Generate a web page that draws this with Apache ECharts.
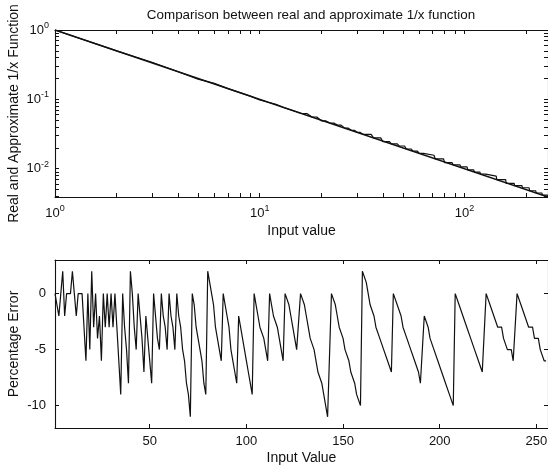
<!DOCTYPE html>
<html>
<head>
<meta charset="utf-8">
<script src="https://cdn.jsdelivr.net/npm/echarts@6/dist/echarts.min.js"></script>
<style>
  html, body { margin: 0; padding: 0; background: #fff; }
  #chart { width: 548px; height: 469px; }
</style>
</head>
<body>
<div id="chart"></div>
<script>
const FONT = "'Liberation Sans', Arial, sans-serif"
const INK = '#111'

// top panel: exact 1/x is a straight line on log-log, so its two end points
const realX = [1, 256]
const realY = [1, 0.00390625]

// approximate 1/x: table value held over each input segment
const approxStart = [1, 2, 3, 4, 5, 6, 7, 8, 9, 10, 11, 12, 13, 14, 15, 16, 18, 20, 22, 24, 26, 28, 30,
  32, 36, 40, 44, 48, 52, 56, 60, 64, 72, 80, 88, 96, 104, 112, 120,
  128, 144, 160, 176, 192, 208, 224, 240, 256]
const approxLevel = [1, 0.5, 0.3401, 0.25, 0.1961, 0.1701, 0.1429, 0.125, 0.1111, 0.098, 0.0909, 0.085,
  0.0769, 0.0714, 0.0667, 0.0625, 0.0556, 0.049, 0.0455, 0.0425, 0.0385, 0.0357, 0.0333,
  0.03125, 0.02778, 0.02451, 0.02273, 0.02126, 0.01923, 0.01786, 0.01667,
  0.015625, 0.01389, 0.012255, 0.011364, 0.010629, 0.009615, 0.008929, 0.008333,
  0.0078125, 0.006944, 0.006127, 0.005682, 0.005315, 0.004808, 0.004464, 0.004167, 0.00390625]

// bottom panel: percentage error for inputs 1..255
const errorValues = [
  0, 0, -2, 0, 2, -2, 0, 0, 0, 2, 0, -2, 0, 0, 0,
  0, -6, 0, -5, 2, -3, 0, -4, -2, -6, 0, -3, 0, -3, 0, -3,
  0, -3, -6, -9, 0, -3, -5, -8, 2, 0, -3, -5, 0, -2, -4, -7,
  -2, -4, -6, -8, 0, -2, -4, -5, 0, -2, -3, -5, 0, -2, -3, -5,
  0, -2, -3, -5, -6, -8, -9, -11,
  0, -1, -3, -4, -5, -6, -8, -9,
  2, 1, 0, -1, -3, -4, -5, -6,
  0, -1, -2, -3, -5, -6, -7, -8,
  -2, -3, -4, -5, -6, -7, -8, -9,
  0, -1, -2, -3, -3, -4, -5, -6,
  0, -1, -2, -2, -3, -4, -5, -6,
  0, 0, -1, -2, -3, -4, -5, -5,
  0, 0, -1, -2, -3, -4, -4, -5, -6, -7, -7, -8, -9, -10, -11, -11,
  0, 0, -1, -2, -3, -3, -4, -5, -5, -6, -7, -7, -8, -9, -9, -10,
  2, 2, 1, 0, -1, -1, -2, -3, -3, -4, -4, -5, -5, -6, -6, -7,
  0, 0, -1, -1, -2, -3, -3, -4, -4, -5, -5, -6, -6, -7, -8, -8,
  -2, -2, -3, -4, -4, -5, -5, -6, -6, -7, -7, -8, -8, -9, -9, -10,
  0, 0, -1, -1, -2, -2, -3, -3, -4, -4, -5, -5, -6, -6, -7, -7,
  0, 0, -1, -1, -2, -2, -3, -3, -3, -4, -4, -5, -5, -5, -6, -6,
  0, 0, -1, -1, -2, -2, -3, -3, -3, -4, -4, -4, -5, -5, -6, -6
]

// ticks and labels
const logXTicks = [1, 2, 3, 4, 5, 6, 7, 8, 9, 10, 20, 30, 40, 50, 60, 70, 80, 90, 100, 200]
const logXLabels = [1, 10, 100]
const logYTicks = [0.004, 0.005, 0.006, 0.007, 0.008, 0.009, 0.01, 0.02, 0.03, 0.04, 0.05, 0.06, 0.07, 0.08, 0.09,
  0.1, 0.2, 0.3, 0.4, 0.5, 0.6, 0.7, 0.8, 0.9, 1]
const logYLabels = [0.01, 0.1, 1]
const errXTicks = [50, 100, 150, 200, 250]
const errYTicks = [-10, -5, 0]

const approxData = []
approxStart.forEach((s, i) => {
  const end = i + 1 < approxStart.length ? approxStart[i + 1] - 1 : s
  approxData.push([s, approxLevel[i]])
  if (end > s) approxData.push([end, approxLevel[i]])
})
const realData = realX.map((x, i) => [x, realY[i]])
const errorData = errorValues.map((v, i) => [i + 1, v])

const line = { onZero: false, lineStyle: { color: INK, width: 1.1 } }
const tick = vals => ({ show: true, inside: true, length: 4, customValues: vals, lineStyle: { color: INK } })
const powLabel = v => {
  const e = Math.round(Math.log10(v))
  return '{b|10}{e|' + e + '}'
}
const powRich = {
  b: { fontFamily: FONT, fontSize: 13, color: INK },
  e: { fontFamily: FONT, fontSize: 9, color: INK, padding: [0, 0, 9, 0] },
}
const labelText = { fontFamily: FONT, fontSize: 13, color: INK }
const nameText = { fontFamily: FONT, fontSize: 14, color: INK }

const chart = echarts.init(document.getElementById('chart'))
chart.setOption({
  animation: false,
  title: {
    text: 'Comparison between real and approximate 1/x function',
    left: 306, top: 4, textAlign: 'center',
    textStyle: { fontFamily: FONT, fontSize: 13.4, fontWeight: 'normal', color: INK },
  },
  grid: [
    { left: 55, right: 0, top: 30, height: 167, outerBoundsMode: 'none' },
    { left: 55, right: 0, top: 260, height: 168, outerBoundsMode: 'none' },
  ],
  xAxis: [
    {
      type: 'log', gridIndex: 0, min: 1, max: 256,
      name: 'Input value', nameLocation: 'middle', nameGap: 27, nameTextStyle: nameText,
      nameMoveOverlap: false,
      axisLine: line, axisTick: tick(logXTicks),
      axisLabel: { customValues: logXLabels, formatter: powLabel, rich: powRich, margin: 7 },
      splitLine: { show: false },
    },
    {
      type: 'log', gridIndex: 0, min: 1, max: 256, position: 'top',
      axisLine: line, axisTick: tick(logXTicks), axisLabel: { show: false }, splitLine: { show: false },
    },
    {
      type: 'value', gridIndex: 1, min: 1, max: 256,
      name: 'Input Value', nameLocation: 'middle', nameGap: 23, nameTextStyle: nameText,
      nameMoveOverlap: false,
      axisLine: line, axisTick: tick(errXTicks),
      axisLabel: Object.assign({ customValues: errXTicks, margin: 7 }, labelText),
      splitLine: { show: false },
    },
    {
      type: 'value', gridIndex: 1, min: 1, max: 256, position: 'top',
      axisLine: line, axisTick: tick(errXTicks), axisLabel: { show: false }, splitLine: { show: false },
    },
  ],
  yAxis: [
    {
      type: 'log', gridIndex: 0, min: 0.00390625, max: 1,
      name: 'Real and Approximate 1/x Function', nameLocation: 'middle', nameGap: 34, nameRotate: 90,
      nameTextStyle: nameText, nameMoveOverlap: false,
      axisLine: line, axisTick: tick(logYTicks),
      axisLabel: { customValues: logYLabels, formatter: powLabel, rich: powRich, margin: 6 },
      splitLine: { show: false },
    },
    {
      type: 'log', gridIndex: 0, min: 0.00390625, max: 1, position: 'right',
      axisLine: line, axisTick: tick(logYTicks), axisLabel: { show: false }, splitLine: { show: false },
    },
    {
      type: 'value', gridIndex: 1, min: -12, max: 3,
      name: 'Percentage Error', nameLocation: 'middle', nameGap: 34, nameRotate: 90,
      nameTextStyle: nameText, nameMoveOverlap: false,
      axisLine: line, axisTick: tick(errYTicks),
      axisLabel: Object.assign({ customValues: errYTicks, margin: 9 }, labelText),
      splitLine: { show: false },
    },
    {
      type: 'value', gridIndex: 1, min: -12, max: 3, position: 'right',
      axisLine: line, axisTick: tick(errYTicks), axisLabel: { show: false }, splitLine: { show: false },
    },
  ],
  series: [
    {
      type: 'line', xAxisIndex: 0, yAxisIndex: 0, data: realData,
      showSymbol: false, lineStyle: { color: INK, width: 1.4 },
    },
    {
      type: 'line', xAxisIndex: 0, yAxisIndex: 0, data: approxData,
      showSymbol: false, lineStyle: { color: INK, width: 1.2 },
    },
    {
      type: 'line', xAxisIndex: 2, yAxisIndex: 2, data: errorData,
      showSymbol: false, lineStyle: { color: INK, width: 1.2 },
    },
  ],
})
</script>
</body>
</html>
